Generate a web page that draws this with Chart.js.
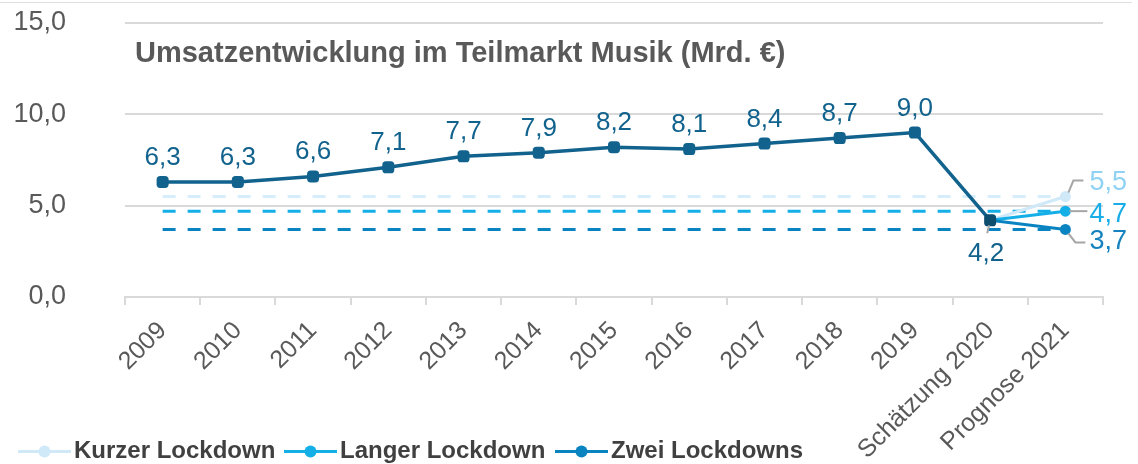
<!DOCTYPE html>
<html>
<head>
<meta charset="utf-8">
<script src="https://cdn.jsdelivr.net/npm/chart.js@4.4.1/dist/chart.umd.min.js"></script>
<style>
html, body { margin: 0; padding: 0; background: #fff; }
canvas { display: block; }
</style>
</head>
<body>
<canvas id="chart" width="1138" height="464"></canvas>
<script>
// data
const years = ['2009', '2010', '2011', '2012', '2013', '2014', '2015', '2016', '2017', '2018', '2019', 'Schätzung 2020', 'Prognose 2021'];
const umsatzHistorie = [6.3, 6.3, 6.6, 7.1, 7.7, 7.9, 8.2, 8.1, 8.4, 8.7, 9.0, 4.2, null];
const kurzerLockdown = [null, null, null, null, null, null, null, null, null, null, null, 4.2, 5.5];
const langerLockdown = [null, null, null, null, null, null, null, null, null, null, null, 4.2, 4.7];
const zweiLockdowns = [null, null, null, null, null, null, null, null, null, null, null, 4.2, 3.7];
const yTicks = [0, 5, 10, 15];
const chartTitle = 'Umsatzentwicklung im Teilmarkt Musik (Mrd. €)';

const FONT = '"Liberation Sans", Arial, sans-serif';
const C_HIST = '#11628d';
const C_KURZ = '#cfe9f9';
const C_LANG = '#15afe7';
const C_ZWEI = '#0a84c1';

const fmt = v => Number(v).toFixed(1).replace('.', ',');

// horizontal dashed line from first to last category at the 2021 value
const refLine = (vals, color) => ({
    label: '_ref',
    data: [{x: years[0], y: vals[vals.length - 1]}, {x: years[years.length - 1], y: vals[vals.length - 1]}],
    borderColor: color,
    borderWidth: 3,
    borderDash: [13, 12],
    pointRadius: 0,
    fill: false
});

const lastOnly = r => ctx => ctx.dataIndex === years.length - 1 ? r : 0;

const scenario = (label, vals, color) => ({
    label: label,
    data: vals,
    borderColor: color,
    backgroundColor: color,
    borderWidth: 3,
    pointRadius: lastOnly(5.5),
    pointBackgroundColor: color,
    pointBorderWidth: 0,
    fill: false
});

const datasets = [
    {
        label: '_hist',
        data: umsatzHistorie,
        borderColor: C_HIST,
        borderWidth: 3.5,
        pointStyle: 'rectRounded',
        pointRadius: 7,
        pointBorderWidth: 0,
        pointBackgroundColor: ctx => ctx.dataIndex === 11 ? '#0d4d6e' : C_HIST,
        fill: false
    },
    scenario('Zwei Lockdowns', zweiLockdowns, C_ZWEI),
    scenario('Langer Lockdown', langerLockdown, C_LANG),
    scenario('Kurzer Lockdown', kurzerLockdown, C_KURZ),
    refLine(zweiLockdowns, C_ZWEI),
    refLine(langerLockdown, C_LANG),
    refLine(kurzerLockdown, '#d6edfb')
];

const legendItems = [
    {label: 'Kurzer Lockdown', color: C_KURZ, x: 18},
    {label: 'Langer Lockdown', color: C_LANG, x: 284},
    {label: 'Zwei Lockdowns', color: C_ZWEI, x: 555}
];

function leader(ctx, pts){
    ctx.beginPath();
    ctx.moveTo(pts[0][0], pts[0][1]);
    for(let i = 1; i < pts.length; i++) ctx.lineTo(pts[i][0], pts[i][1]);
    ctx.stroke();
}

const decorPlugin = {
    id: 'decor',
    beforeDraw(chart){
        const ctx = chart.ctx;
        ctx.save();
        ctx.fillStyle = '#fff';
        ctx.fillRect(0, 0, chart.width, chart.height);
        ctx.strokeStyle = '#e0e0e0';
        ctx.lineWidth = 1;
        ctx.beginPath();
        ctx.moveTo(0, 2.5);
        ctx.lineTo(1132, 2.5);
        ctx.stroke();
        ctx.restore();
    },
    afterDraw(chart){
        const ctx = chart.ctx;
        ctx.save();

        // title inside the plot
        ctx.font = 'bold 29px ' + FONT;
        ctx.fillStyle = '#595959';
        ctx.textAlign = 'left';
        ctx.textBaseline = 'alphabetic';
        ctx.fillText(chartTitle, 135, 62);

        // history labels
        const hist = chart.getDatasetMeta(0).data;
        ctx.font = '26px ' + FONT;
        ctx.textAlign = 'center';
        ctx.fillStyle = C_HIST;
        umsatzHistorie.forEach((v, i) => {
            if(v === null) return;
            const p = hist[i];
            if(i === 11){
                ctx.fillText(fmt(v), p.x - 4, p.y + 41);
            } else {
                ctx.fillText(fmt(v), p.x, p.y - 17);
            }
        });

        // leader lines
        ctx.strokeStyle = '#a6a6a6';
        ctx.lineWidth = 2;
        const p20 = hist[11];
        leader(ctx, [[p20.x - 1, p20.y + 5], [p20.x - 3, p20.y + 13]]);

        const last = years.length - 1;
        const pk = chart.getDatasetMeta(3).data[last];
        const pl = chart.getDatasetMeta(2).data[last];
        const pz = chart.getDatasetMeta(1).data[last];
        leader(ctx, [[pk.x + 3, pk.y - 4], [pk.x + 8, pk.y - 16], [pk.x + 18, pk.y - 16]]);
        leader(ctx, [[pl.x + 4, pl.y], [pl.x + 22, pl.y]]);
        leader(ctx, [[pz.x + 3, pz.y + 4], [pz.x + 10, pz.y + 13], [pz.x + 20, pz.y + 13]]);

        ctx.textAlign = 'left';
        ctx.font = '27px ' + FONT;
        ctx.fillStyle = '#8fd2f3';
        ctx.fillText(fmt(kurzerLockdown[last]), pk.x + 24, pk.y - 7);
        ctx.fillStyle = '#18ade6';
        ctx.fillText(fmt(langerLockdown[last]), pl.x + 24, pl.y + 11);
        ctx.fillStyle = '#1682bf';
        ctx.fillText(fmt(zweiLockdowns[last]), pz.x + 24, pz.y + 20);

        // legend
        ctx.font = 'bold 24px ' + FONT;
        ctx.textAlign = 'left';
        legendItems.forEach(it => {
            ctx.strokeStyle = it.color;
            ctx.lineWidth = 3;
            ctx.beginPath();
            ctx.moveTo(it.x, 451.5);
            ctx.lineTo(it.x + 53, 451.5);
            ctx.stroke();
            ctx.fillStyle = it.color;
            ctx.beginPath();
            ctx.arc(it.x + 26.5, 451.5, 6, 0, Math.PI * 2);
            ctx.fill();
            ctx.fillStyle = '#404040';
            ctx.fillText(it.label, it.x + 56, 458);
        });

        ctx.restore();
    }
};

new Chart(document.getElementById('chart'), {
    type: 'line',
    data: {labels: years, datasets: datasets},
    options: {
        responsive: false,
        animation: false,
        devicePixelRatio: 1,
        spanGaps: false,
        layout: {padding: {top: 23, right: 35, left: 0, bottom: 0}},
        plugins: {legend: {display: false}, tooltip: {enabled: false}, title: {display: false}},
        scales: {
            x: {
                offset: true,
                grid: {display: true, drawOnChartArea: false, drawTicks: true, tickLength: 8, color: '#d9d9d9', lineWidth: 2, offset: true},
                border: {display: true, color: '#d9d9d9', width: 2},
                ticks: {color: '#595959', font: {size: 25, family: FONT}, minRotation: 45, maxRotation: 45, padding: 11, autoSkip: false},
                afterFit: s => { s.height = 167; }
            },
            y: {
                min: 0,
                max: 15,
                grid: {color: '#d9d9d9', lineWidth: 2, drawTicks: false},
                border: {display: false},
                ticks: {stepSize: 5, padding: 59, color: '#595959', font: {size: 27, family: FONT}, callback: v => fmt(v)},
                afterBuildTicks: s => { s.ticks = yTicks.map(v => ({value: v})); },
                afterFit: s => { s.width = 125; s.paddingTop = 0; s.paddingBottom = 0; }
            }
        }
    },
    plugins: [decorPlugin]
});
</script>
</body>
</html>
